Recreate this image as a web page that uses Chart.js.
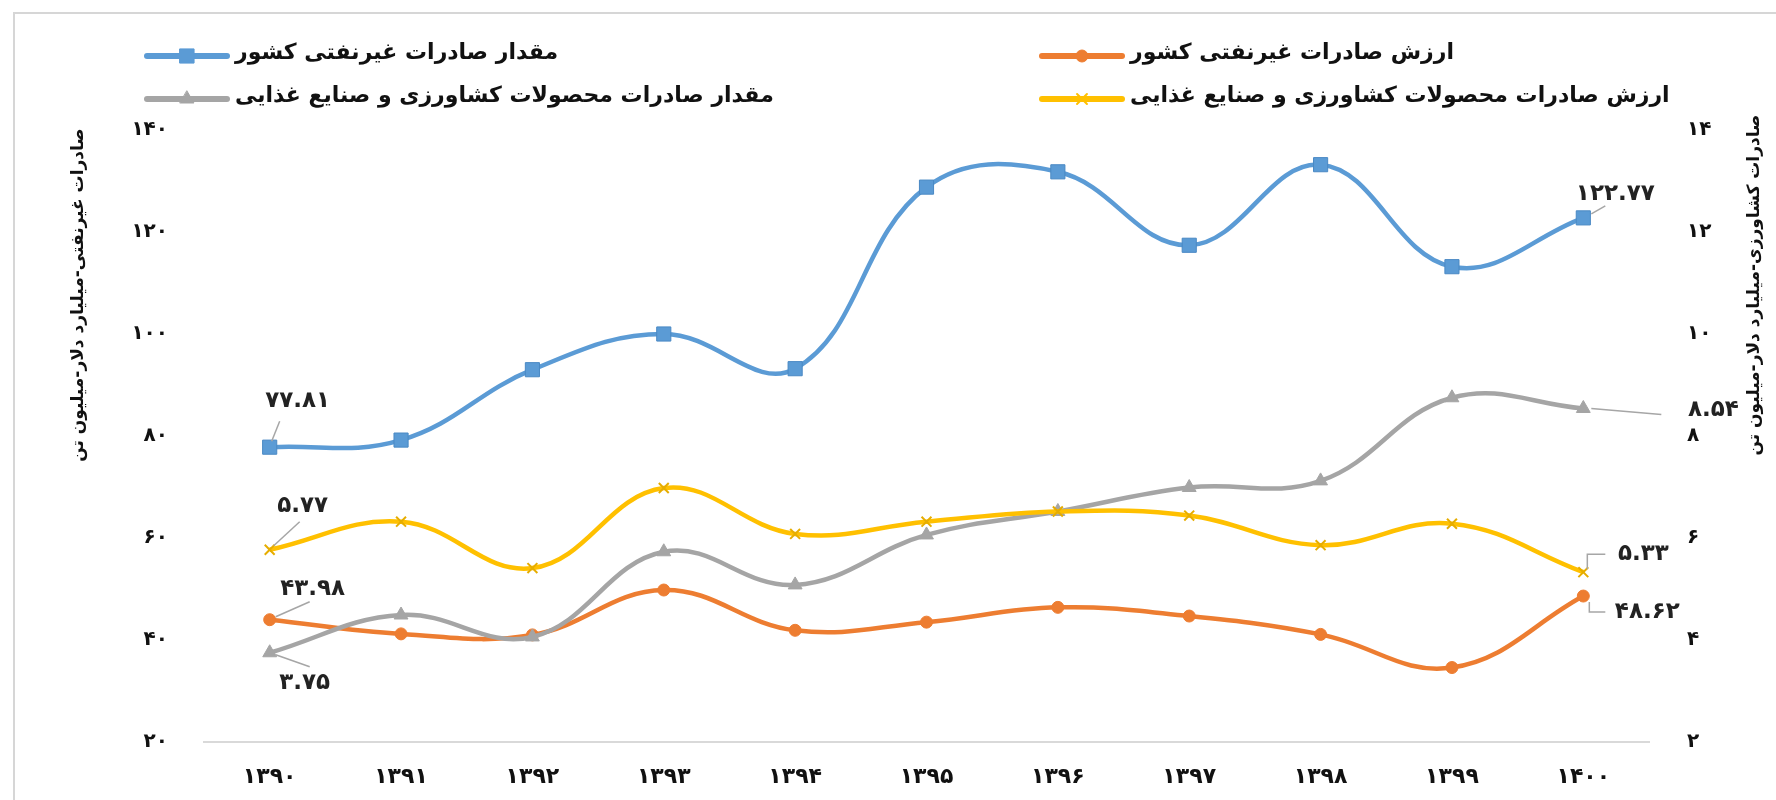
<!DOCTYPE html>
<html>
<head>
<meta charset="utf-8">
<script src="https://cdn.jsdelivr.net/npm/chart.js@4.4.1/dist/chart.umd.min.js"></script>
<style>
  html, body { margin: 0; padding: 0; background: #fff; }
  #wrap { width: 1776px; height: 800px; position: relative; }
</style>
</head>
<body>
<div id="wrap"><canvas id="chart" width="1776" height="800"></canvas></div>
<script>
// categories (solar years)
var years = ['۱۳۹۰', '۱۳۹۱', '۱۳۹۲', '۱۳۹۳', '۱۳۹۴', '۱۳۹۵', '۱۳۹۶', '۱۳۹۷', '۱۳۹۸', '۱۳۹۹', '۱۴۰۰'];

// series
var nonOilVolume = [77.81, 79.2, 93.0, 100.0, 93.2, 128.8, 131.8, 117.4, 133.2, 113.2, 122.77];
var nonOilValue  = [43.98, 41.2, 41.0, 49.8, 41.9, 43.5, 46.4, 44.7, 41.1, 34.6, 48.62];
var agriVolume   = [3.75, 4.49, 4.06, 5.73, 5.08, 6.06, 6.52, 6.99, 7.12, 8.75, 8.54];
var agriValue    = [5.77, 6.32, 5.41, 6.98, 6.08, 6.32, 6.52, 6.44, 5.86, 6.28, 5.33];

var seriesNames = [
    'مقدار صادرات غیرنفتی کشور',
    'ارزش صادرات غیرنفتی کشور',
    'مقدار صادرات محصولات کشاورزی و صنایع غذایی',
    'ارزش صادرات محصولات کشاورزی و صنایع غذایی'
];

// axis ranges [min, max, step]
var leftRange = [20, 140, 20];
var rightRange = [2, 14, 2];
var leftTitle = 'صادرات غیرنفتی-میلیارد دلار-میلیون تن';
var rightTitle = 'صادرات کشاورزی-میلیارد دلار-میلیون تن';

var FA = '۰۱۲۳۴۵۶۷۸۹';
function toFa(v) {
    return String(v).replace(/\d/g, function (d) { return FA[d]; });
}

var FONT = "'DejaVu Sans', sans-serif";

// Legend: two rows, two columns
var legendSlots = [
    {ds: 0, x: 147, y: 56},
    {ds: 1, x: 1042, y: 56},
    {ds: 2, x: 147, y: 99},
    {ds: 3, x: 1042, y: 99}
];

// Data labels on first / last points: offset of text and leader line
var labelSlots = [
    {ds: 0, i: 0,  dx: 28,  dy: -46, lead: [[2, -6], [10, -26]]},
    {ds: 0, i: 10, dx: 32,  dy: -24, lead: [[8, -4], [22, -12]]},
    {ds: 3, i: 0,  dx: 33,  dy: -44, lead: [[4, -4], [30, -28]]},
    {ds: 1, i: 0,  dx: 43,  dy: -31, lead: [[6, -3], [40, -18]]},
    {ds: 2, i: 0,  dx: 35,  dy: 30,  lead: [[6, 2], [40, 14]]},
    {ds: 2, i: 10, dx: 130, dy: 2,   lead: [[8, 0], [78, 6]]},
    {ds: 3, i: 10, dx: 60,  dy: -18, lead: [[4, -3], [4, -18], [22, -18]]},
    {ds: 1, i: 10, dx: 64,  dy: 16,  lead: [[6, 6], [6, 16], [22, 16]]}
];

var extras = {
    id: 'extras',
    afterDraw: function (chart) {
        var ctx = chart.ctx;
        ctx.save();

        // frame
        ctx.strokeStyle = '#d6d6d6';
        ctx.lineWidth = 2;
        ctx.beginPath();
        ctx.moveTo(14, 800);
        ctx.lineTo(14, 13);
        ctx.lineTo(1776, 13);
        ctx.stroke();

        // legend
        legendSlots.forEach(function (s) {
            var d = chart.data.datasets[s.ds];
            ctx.strokeStyle = d.borderColor;
            ctx.lineWidth = 6;
            ctx.lineCap = 'round';
            ctx.beginPath();
            ctx.moveTo(s.x, s.y);
            ctx.lineTo(s.x + 80, s.y);
            ctx.stroke();
            ctx.fillStyle = d.pointBackgroundColor;
            ctx.strokeStyle = d.borderColor;
            ctx.lineWidth = d.pointBorderWidth;
            Chart.helpers.drawPoint(ctx, {pointStyle: d.pointStyle, radius: d.pointRadius, rotation: 0, borderWidth: d.pointBorderWidth}, s.x + 40, s.y);
            ctx.fillStyle = '#111';
            ctx.font = 'bold 22px ' + FONT;
            ctx.textAlign = 'left';
            ctx.textBaseline = 'middle';
            ctx.direction = 'rtl';
            ctx.fillText(seriesNames[s.ds], s.x + 88, s.y - 3);
            ctx.direction = 'ltr';
        });

        // data labels
        ctx.letterSpacing = '3px';
        labelSlots.forEach(function (s) {
            var pt = chart.getDatasetMeta(s.ds).data[s.i];
            var val = chart.data.datasets[s.ds].data[s.i];
            ctx.strokeStyle = '#a6a6a6';
            ctx.lineWidth = 1.5;
            ctx.lineCap = 'butt';
            ctx.beginPath();
            s.lead.forEach(function (p, k) {
                if (k === 0) ctx.moveTo(pt.x + p[0], pt.y + p[1]);
                else ctx.lineTo(pt.x + p[0], pt.y + p[1]);
            });
            ctx.stroke();
            ctx.fillStyle = '#222';
            ctx.font = 'bold 23px ' + FONT;
            ctx.textAlign = 'center';
            ctx.textBaseline = 'middle';
            ctx.fillText(toFa(val), pt.x + s.dx, pt.y + s.dy);
        });
        ctx.letterSpacing = '0px';

        // axis titles, both read bottom to top
        ctx.fillStyle = '#111';
        ctx.font = 'bold 17px ' + FONT;
        ctx.textAlign = 'center';
        ctx.textBaseline = 'middle';
        ctx.direction = 'rtl';
        ctx.save();
        ctx.translate(79, 295);
        ctx.rotate(-Math.PI / 2);
        ctx.fillText(leftTitle, 0, 0);
        ctx.restore();
        ctx.save();
        ctx.translate(1755, 285);
        ctx.rotate(-Math.PI / 2);
        ctx.fillText(rightTitle, 0, 0);
        ctx.restore();

        ctx.restore();
    }
};

Chart.defaults.font.family = FONT;
Chart.defaults.color = '#222';

var lineBase = {
    borderWidth: 4.5,
    tension: 0.4,
    fill: false
};

new Chart(document.getElementById('chart').getContext('2d'), {
    type: 'line',
    data: {
        labels: years,
        datasets: [
            Object.assign({}, lineBase, {
                label: seriesNames[0],
                data: nonOilVolume,
                yAxisID: 'y',
                borderColor: '#5b9bd5',
                pointBackgroundColor: '#5b9bd5',
                pointBorderColor: '#4a89c4',
                pointBorderWidth: 1,
                pointStyle: 'rect',
                pointRadius: 10,
                order: 0
            }),
            Object.assign({}, lineBase, {
                label: seriesNames[1],
                data: nonOilValue,
                yAxisID: 'y',
                borderColor: '#ed7d31',
                pointBackgroundColor: '#ed7d31',
                pointBorderColor: '#ed7d31',
                pointBorderWidth: 1,
                pointStyle: 'circle',
                pointRadius: 6,
                order: 3
            }),
            Object.assign({}, lineBase, {
                label: seriesNames[2],
                data: agriVolume,
                yAxisID: 'y1',
                borderColor: '#a5a5a5',
                pointBackgroundColor: '#a5a5a5',
                pointBorderColor: '#a5a5a5',
                pointBorderWidth: 1,
                pointStyle: 'triangle',
                pointRadius: 8,
                order: 2
            }),
            Object.assign({}, lineBase, {
                label: seriesNames[3],
                data: agriValue,
                yAxisID: 'y1',
                borderColor: '#ffc000',
                pointBackgroundColor: '#ffc000',
                pointBorderColor: '#e6ad00',
                pointBorderWidth: 2,
                pointStyle: 'crossRot',
                pointRadius: 7,
                order: 1
            })
        ]
    },
    options: {
        responsive: false,
        animation: false,
        layout: {padding: {top: 130, left: 0, right: 0, bottom: 0}},
        plugins: {
            legend: {display: false},
            tooltip: {enabled: false}
        },
        scales: {
            x: {
                offset: true,
                grid: {display: false, drawTicks: false},
                border: {display: true, color: '#d9d9d9', width: 2},
                ticks: {padding: 22, font: {size: 22, weight: 'bold'}, color: '#111'},
                afterFit: function (scale) { scale.height = 58; }
            },
            y: {
                position: 'left',
                min: leftRange[0],
                max: leftRange[1],
                grid: {display: false, drawTicks: false},
                border: {display: false},
                ticks: {stepSize: leftRange[2], padding: 36, font: {size: 20, weight: 'bold'}, color: '#111',
                    callback: function (v) { return toFa(v); }},
                afterFit: function (scale) { scale.width = 204; }
            },
            y1: {
                position: 'right',
                min: rightRange[0],
                max: rightRange[1],
                grid: {display: false, drawTicks: false},
                border: {display: false},
                ticks: {stepSize: rightRange[2], padding: 38, font: {size: 20, weight: 'bold'}, color: '#111',
                    callback: function (v) { return toFa(v); }},
                afterFit: function (scale) { scale.width = 127; }
            }
        }
    },
    plugins: [extras]
});
</script>
</body>
</html>
